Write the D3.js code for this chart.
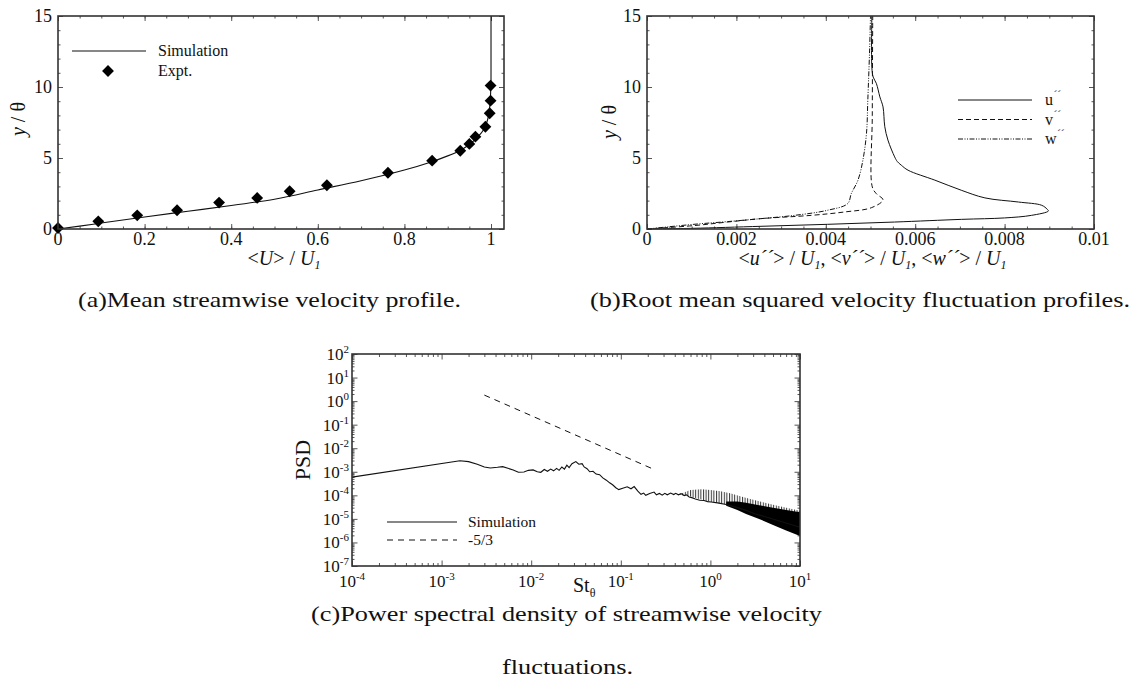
<!DOCTYPE html>
<html>
<head>
<meta charset="utf-8">
<script src="https://cdn.jsdelivr.net/npm/d3@7"></script>
<style>
  body { margin: 0; background: #fff; }
  text { font-family: "Liberation Serif", "Times New Roman", serif; fill: #111; }
</style>
</head>
<body>
<div id="vizcontainer"></div>
<script>
const
  width = 1133,
  height = 696
  ;

// (a) mean streamwise velocity
const simU = [0, 0.05, 0.1, 0.2, 0.3, 0.4, 0.5, 0.6, 0.7, 0.8, 0.86, 0.9, 0.93, 0.95, 0.97, 0.985, 0.993, 0.997, 0.999, 1.0, 1.0];
const simY = [0, 0.2, 0.42, 0.85, 1.25, 1.65, 2.1, 2.75, 3.4, 4.15, 4.7, 5.15, 5.55, 5.95, 6.5, 7.1, 7.8, 8.6, 9.5, 10.5, 15];
const exptU = [0, 0.093, 0.183, 0.275, 0.372, 0.46, 0.535, 0.621, 0.762, 0.864, 0.929, 0.95, 0.964, 0.987, 0.997, 0.999, 0.999];
const exptY = [0.07, 0.54, 0.96, 1.32, 1.86, 2.19, 2.66, 3.08, 3.96, 4.81, 5.51, 5.99, 6.5, 7.2, 8.15, 9.04, 10.1];
const aXTicks = [0, 0.2, 0.4, 0.6, 0.8, 1];
const aXLabels = ['0', '0.2', '0.4', '0.6', '0.8', '1'];
const yTicks = [0, 5, 10, 15];
const yLabels = ['0', '5', '10', '15'];

// (b) rms fluctuation profiles
const uRmsX = [0, 0.0005, 0.00105, 0.00255, 0.00404, 0.00554, 0.00704, 0.0080, 0.0086, 0.00898, 0.00895, 0.00883, 0.00831, 0.00756, 0.00703, 0.00644, 0.00584, 0.00569, 0.0056, 0.00554, 0.00539, 0.00532, 0.00528, 0.00521, 0.00513, 0.00506, 0.00503, 0.00503];
const uRmsY = [0, 0.02, 0.05, 0.19, 0.33, 0.49, 0.68, 0.78, 0.96, 1.27, 1.4, 1.67, 1.9, 2.19, 2.73, 3.44, 4.14, 4.49, 4.75, 5.08, 6.26, 7.2, 8.6, 9.3, 10.26, 10.7, 11.4, 15];
const vRmsX = [0, 0.00105, 0.0018, 0.00255, 0.00367, 0.00442, 0.00502, 0.00528, 0.00513, 0.00504, 0.00504, 0.00505];
const vRmsY = [0, 0.24, 0.49, 0.73, 0.96, 1.2, 1.5, 2.05, 2.49, 2.96, 8, 15];
const wRmsX = [0, 0.00105, 0.0018, 0.00255, 0.0033, 0.00404, 0.00449, 0.00457, 0.00472, 0.00483, 0.00491, 0.00494, 0.00498, 0.005];
const wRmsY = [0, 0.33, 0.52, 0.73, 0.96, 1.32, 1.79, 2.49, 3.44, 4.85, 6.73, 9.08, 12.6, 15];
const bXTicks = [0, 0.002, 0.004, 0.006, 0.008, 0.01];
const bXLabels = ['0', '0.002', '0.004', '0.006', '0.008', '0.01'];

// (c) power spectral density
const psdSt = [1e-4, 1.6e-3, 2.0e-3, 2.5e-3, 3.0e-3, 3.5e-3, 4.2e-3, 4.8e-3, 5.5e-3, 6.3e-3, 7.2e-3, 8.3e-3, 9.3e-3,
  1.05e-2, 1.17e-2, 1.28e-2, 1.4e-2, 1.52e-2, 1.65e-2, 1.78e-2, 1.92e-2, 2.05e-2, 2.2e-2, 2.35e-2, 2.5e-2, 2.65e-2, 2.85e-2,
  3.15e-2, 3.4e-2, 3.7e-2, 3.9e-2, 4.2e-2, 4.5e-2, 4.9e-2, 5.3e-2, 5.8e-2, 6.3e-2, 6.9e-2, 7.5e-2, 8.1e-2, 8.8e-2, 9.5e-2,
  0.105, 0.118, 0.13, 0.141, 0.155, 0.168, 0.18, 0.19, 0.21, 0.235, 0.25, 0.27, 0.29, 0.31, 0.33, 0.36, 0.39, 0.41, 0.44,
  0.47, 0.51, 0.54, 0.58, 0.62, 0.68, 0.76, 0.85, 0.93, 1.02, 1.2, 1.5, 2.0, 2.5, 3.2, 4.2, 6, 10];
const psdVal = [5.9e-4, 2.95e-3, 2.7e-3, 2.1e-3, 1.6e-3, 1.45e-3, 1.55e-3, 1.65e-3, 1.4e-3, 1.2e-3, 9.5e-4, 9.8e-4, 1.15e-3,
  1.2e-3, 1.0e-3, 9.5e-4, 1.25e-3, 1.05e-3, 1.3e-3, 1.1e-3, 1.4e-3, 1.15e-3, 1.6e-3, 1.3e-3, 1.9e-3, 1.5e-3, 2.2e-3,
  2.7e-3, 2.1e-3, 2.2e-3, 1.6e-3, 1.35e-3, 1.0e-3, 1.05e-3, 8.0e-4, 7.5e-4, 5.5e-4, 4.4e-4, 3.4e-4, 2.8e-4, 2.1e-4, 1.75e-4,
  2.0e-4, 2.3e-4, 1.9e-4, 2.35e-4, 1.5e-4, 1.1e-4, 1.25e-4, 1.0e-4, 1.2e-4, 1.38e-4, 1.05e-4, 1.2e-4, 1.02e-4, 1.22e-4, 1.05e-4, 1.25e-4, 1.08e-4, 1.22e-4, 1.05e-4,
  1.18e-4, 9.8e-5, 1.05e-4, 8.5e-5, 8e-5, 7e-5, 6.2e-5, 6.0e-5, 5.4e-5, 5.2e-5, 4.8e-5, 4.1e-5, 3.0e-5, 2.3e-5, 1.6e-5, 1.2e-5, 8e-6, 4.4e-6];
// upward spikes and dense noisy band at high St (low / high envelope)
const spikeSt = [0.45, 0.6, 0.8, 1.0, 1.3, 1.7, 2.2, 3.0, 5, 10];
const spikeLo = [1.05e-4, 9e-5, 6.5e-5, 5.3e-5, 4.5e-5, 3.8e-5, 2.8e-5, 1.8e-5, 1e-5, 4.5e-6];
const spikeHi = [1.1e-4, 1.7e-4, 1.8e-4, 1.7e-4, 1.5e-4, 1.2e-4, 9e-5, 6.5e-5, 4e-5, 2.2e-5];
const bandSt = [1.5, 2.0, 2.5, 3.5, 5, 7, 10];
const bandLo = [3.6e-5, 2.4e-5, 1.6e-5, 1e-5, 5.5e-6, 3.2e-6, 1.9e-6];
const bandHi = [5.5e-5, 5.5e-5, 4.8e-5, 3.8e-5, 3e-5, 2.4e-5, 1.9e-5];
const slopeSt = [0.003, 0.22];
const slopeVal = [1.8, 1.4e-3];
const cXExp = [-4, -3, -2, -1, 0, 1];
const cYExp = [2, 1, 0, -1, -2, -3, -4, -5, -6, -7];

const svg = d3.select('#vizcontainer')
  .append('svg')
  .attr('width', width)
  .attr('height', height);

const defs = svg.append('defs');
defs.append('pattern')
  .attr('id', 'spikes')
  .attr('patternUnits', 'userSpaceOnUse')
  .attr('width', 2.6).attr('height', 10)
  .append('rect').attr('x', 0).attr('y', 0).attr('width', 1).attr('height', 10).attr('fill', '#111');

// text with italic / sub / sup parts
function rich(sel, parts) {
  let shift = 0;
  parts.forEach(p => {
    const ts = sel.append('tspan').text(p.t);
    const target = p.sub ? p.sub : (p.sup ? -p.sup : 0);
    if (target !== shift) { ts.attr('dy', target - shift); shift = target; }
    if (p.i) ts.attr('font-style', 'italic');
    if (p.fs) ts.attr('font-size', p.fs);
  });
}

// inward ticks on one side
function tickSet(g, scale, vals, side, len, w, h) {
  const ax = side === 'bottom' ? d3.axisBottom(scale) : side === 'top' ? d3.axisTop(scale)
    : side === 'left' ? d3.axisLeft(scale) : d3.axisRight(scale);
  ax.tickValues(vals).tickSize(-len).tickFormat('');
  const a = g.append('g').call(ax);
  if (side === 'bottom') a.attr('transform', `translate(0,${h})`);
  if (side === 'right') a.attr('transform', `translate(${w},0)`);
  a.select('.domain').remove();
  a.selectAll('line').attr('stroke', '#555').attr('stroke-width', 1);
}

function frame(g, w, h) {
  g.append('rect').attr('width', w).attr('height', h)
    .attr('fill', 'none').attr('stroke', '#333').attr('stroke-width', 1.6);
}

function linearPanel(g, x, y, w, h, xMajor, xLabels, xMinor) {
  const yMinor = d3.range(0, 16, 1);
  ['bottom', 'top'].forEach(s => { tickSet(g, x, xMinor, s, 2.5, w, h); tickSet(g, x, xMajor, s, 5, w, h); });
  ['left', 'right'].forEach(s => { tickSet(g, y, yMinor, s, 2.5, w, h); tickSet(g, y, yTicks, s, 5, w, h); });
  g.selectAll('.xl').data(xMajor).join('text')
    .attr('x', d => x(d)).attr('y', h + 16)
    .attr('text-anchor', 'middle').attr('font-size', 18)
    .text((d, i) => xLabels[i]);
  g.selectAll('.yl').data(yTicks).join('text')
    .attr('x', -6).attr('y', d => y(d) + 6)
    .attr('text-anchor', 'end').attr('font-size', 18)
    .text((d, i) => yLabels[i]);
}

// ---------- (a)
const pa = { left: 58, top: 16, w: 446, h: 213 };
const gA = svg.append('g').attr('transform', `translate(${pa.left},${pa.top})`);
const xA = d3.scaleLinear().domain([0, 1.03]).range([0, pa.w]);
const yA = d3.scaleLinear().domain([0, 15]).range([pa.h, 0]);
linearPanel(gA, xA, yA, pa.w, pa.h, aXTicks, aXLabels, d3.range(0, 1.03, 0.05));

gA.append('path')
  .datum(d3.zip(simU, simY))
  .attr('fill', 'none').attr('stroke', '#111').attr('stroke-width', 1.1)
  .attr('d', d3.line().x(d => xA(d[0])).y(d => yA(d[1])).curve(d3.curveMonotoneY));

const diamond = d3.symbol().type(d3.symbolSquare).size(70);
gA.selectAll('.ex').data(d3.zip(exptU, exptY)).join('path')
  .attr('d', diamond)
  .attr('transform', d => `translate(${xA(d[0])},${yA(d[1])}) rotate(45)`)
  .attr('fill', '#000');
frame(gA, pa.w, pa.h);

// legend (a)
svg.append('line').attr('x1', 72).attr('x2', 146).attr('y1', 51).attr('y2', 51).attr('stroke', '#111').attr('stroke-width', 1.1);
svg.append('text').attr('x', 158).attr('y', 56).attr('font-size', 16).text('Simulation');
svg.append('path').attr('d', diamond).attr('transform', 'translate(108,71) rotate(45)').attr('fill', '#000');
svg.append('text').attr('x', 158).attr('y', 76).attr('font-size', 16).text('Expt.');

rich(svg.append('text').attr('text-anchor', 'middle').attr('font-size', 20)
  .attr('transform', 'translate(25,119) rotate(-90)'), [{ t: 'y', i: true }, { t: ' / θ' }]);
rich(svg.append('text').attr('x', pa.left + pa.w / 2 + 3).attr('y', 265).attr('text-anchor', 'middle').attr('font-size', 20),
  [{ t: '<' }, { t: 'U', i: true }, { t: '> / ' }, { t: 'U', i: true }, { t: '1', i: true, sub: 4, fs: 12 }]);

// ---------- (b)
const pb = { left: 647, top: 16, w: 447, h: 213 };
const gB = svg.append('g').attr('transform', `translate(${pb.left},${pb.top})`);
const xB = d3.scaleLinear().domain([0, 0.01]).range([0, pb.w]);
const yB = d3.scaleLinear().domain([0, 15]).range([pb.h, 0]);
linearPanel(gB, xB, yB, pb.w, pb.h, bXTicks, bXLabels, d3.range(0, 0.01001, 0.0005));

const rmsLine = d3.line().x(d => xB(d[0])).y(d => yB(d[1])).curve(d3.curveCatmullRom.alpha(0.5));
const rmsSeries = [
  { x: uRmsX, y: uRmsY, dash: null, name: 'u' },
  { x: vRmsX, y: vRmsY, dash: '5,3', name: 'v' },
  { x: wRmsX, y: wRmsY, dash: '5,1.5,1,1.5,1,1.5', name: 'w' }
];
rmsSeries.forEach(s => {
  gB.append('path').datum(d3.zip(s.x, s.y))
    .attr('fill', 'none').attr('stroke', '#111').attr('stroke-width', 1)
    .attr('stroke-dasharray', s.dash)
    .attr('d', rmsLine);
});
frame(gB, pb.w, pb.h);

rmsSeries.forEach((s, i) => {
  const ly = 100 + i * 19.5;
  svg.append('line').attr('x1', 958).attr('x2', 1032).attr('y1', ly).attr('y2', ly)
    .attr('stroke', '#111').attr('stroke-width', 1).attr('stroke-dasharray', s.dash);
  rich(svg.append('text').attr('x', 1045).attr('y', ly + 5).attr('font-size', 16),
    [{ t: s.name }, { t: '´´', sup: 7, fs: 11, i: true }]);
});

rich(svg.append('text').attr('text-anchor', 'middle').attr('font-size', 20)
  .attr('transform', 'translate(616,122) rotate(-90)'), [{ t: 'y', i: true }, { t: ' / θ' }]);
rich(svg.append('text').attr('x', pb.left + pb.w / 2 + 2).attr('y', 265).attr('text-anchor', 'middle').attr('font-size', 20),
  [{ t: '<' }, { t: 'u', i: true }, { t: '´´', i: true }, { t: '> / ' }, { t: 'U', i: true }, { t: '1', i: true, sub: 4, fs: 12 },
   { t: ', <' }, { t: 'v', i: true }, { t: '´´', i: true }, { t: '> / ' }, { t: 'U', i: true }, { t: '1', i: true, sub: 4, fs: 12 },
   { t: ', <' }, { t: 'w', i: true }, { t: '´´', i: true }, { t: '> / ' }, { t: 'U', i: true }, { t: '1', i: true, sub: 4, fs: 12 }]);

// ---------- (c)
const pc = { left: 352, top: 354, w: 448, h: 212 };
const gC = svg.append('g').attr('transform', `translate(${pc.left},${pc.top})`);
const xC = d3.scaleLog().domain([1e-4, 10]).range([0, pc.w]);
const yC = d3.scaleLog().domain([1e-7, 1e2]).range([pc.h, 0]);
defs.append('clipPath').attr('id', 'clipC').append('rect').attr('width', pc.w).attr('height', pc.h);

const minorLog = (lo, hi) => {
  const out = [];
  for (let e = lo; e < hi; e++) for (let m = 2; m <= 9; m++) out.push(m * Math.pow(10, e));
  return out;
};
const cXMajor = cXExp.map(e => Math.pow(10, e));
const cYMajor = cYExp.map(e => Math.pow(10, e));
['bottom', 'top'].forEach(s => { tickSet(gC, xC, minorLog(-4, 1), s, 3, pc.w, pc.h); tickSet(gC, xC, cXMajor, s, 5.5, pc.w, pc.h); });
['left', 'right'].forEach(s => { tickSet(gC, yC, minorLog(-7, 2), s, 2.5, pc.w, pc.h); tickSet(gC, yC, cYMajor, s, 5.5, pc.w, pc.h); });

gC.selectAll('.cx').data(cXExp).join('text')
  .attr('x', d => xC(Math.pow(10, d))).attr('y', pc.h + 21)
  .attr('text-anchor', 'middle').attr('font-size', 17)
  .each(function (d) { rich(d3.select(this), [{ t: '10' }, { t: String(d), sup: 7, fs: 11 }]); });
gC.selectAll('.cy').data(cYExp).join('text')
  .attr('x', -3).attr('y', d => yC(Math.pow(10, d)) + 6)
  .attr('text-anchor', 'end').attr('font-size', 17)
  .each(function (d) { rich(d3.select(this), [{ t: '10' }, { t: String(d), sup: 7, fs: 11 }]); });

const plotC = gC.append('g').attr('clip-path', 'url(#clipC)');
plotC.append('path')
  .datum(d3.zip(spikeSt, spikeLo, spikeHi))
  .attr('fill', 'url(#spikes)').attr('opacity', 0.85)
  .attr('d', d3.area().x(d => xC(d[0])).y0(d => yC(d[1])).y1(d => yC(d[2])));
plotC.append('path')
  .datum(d3.zip(bandSt, bandLo, bandHi))
  .attr('fill', '#000')
  .attr('d', d3.area().x(d => xC(d[0])).y0(d => yC(d[1])).y1(d => yC(d[2])));
plotC.append('path')
  .datum(d3.zip(psdSt, psdVal))
  .attr('fill', 'none').attr('stroke', '#111').attr('stroke-width', 1.1)
  .attr('d', d3.line().x(d => xC(d[0])).y(d => yC(d[1])));
plotC.append('path')
  .datum(d3.zip(slopeSt, slopeVal))
  .attr('fill', 'none').attr('stroke', '#111').attr('stroke-width', 1).attr('stroke-dasharray', '6,5')
  .attr('d', d3.line().x(d => xC(d[0])).y(d => yC(d[1])));
frame(gC, pc.w, pc.h);

// legend (c)
svg.append('line').attr('x1', 387).attr('x2', 457).attr('y1', 522).attr('y2', 522).attr('stroke', '#111').attr('stroke-width', 1.1);
svg.append('text').attr('x', 468).attr('y', 527).attr('font-size', 15.5).text('Simulation');
svg.append('line').attr('x1', 387).attr('x2', 457).attr('y1', 540).attr('y2', 540).attr('stroke', '#111').attr('stroke-width', 1).attr('stroke-dasharray', '6,5');
svg.append('text').attr('x', 468).attr('y', 545).attr('font-size', 15.5).text('-5/3');

svg.append('text').attr('text-anchor', 'middle').attr('font-size', 22)
  .attr('transform', 'translate(310,460) rotate(-90)').text('PSD');
rich(svg.append('text').attr('x', 573).attr('y', 592).attr('font-size', 20),
  [{ t: 'St' }, { t: 'θ', sub: 5, fs: 12 }]);

// ---------- captions
const caption = (x, y, len, str) => svg.append('text')
  .attr('x', x).attr('y', y).attr('font-size', 22)
  .attr('textLength', len).attr('lengthAdjust', 'spacingAndGlyphs')
  .text(str);
caption(78, 307, 383, '(a)Mean streamwise velocity profile.');
caption(590, 307, 540, '(b)Root mean squared velocity fluctuation profiles.');
caption(311, 621, 511, '(c)Power spectral density of streamwise velocity');
caption(502, 674, 131, 'fluctuations.');
</script>
</body>
</html>
